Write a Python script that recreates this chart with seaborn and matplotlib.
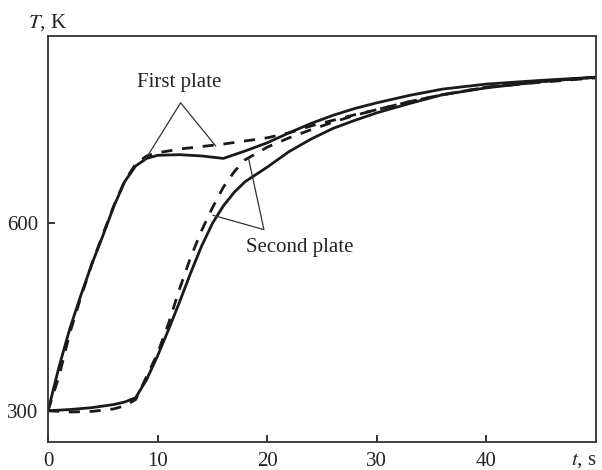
import numpy as np
import pandas as pd
import matplotlib
matplotlib.use("Agg")
import matplotlib.pyplot as plt
import seaborn as sns

# ---- data ----
t_first = [0, 1, 2, 3, 4, 5, 6, 7, 8, 9, 10, 12, 14, 16, 18, 20, 22, 24, 26, 28, 30, 33, 36, 40, 45, 50]
T_first_solid = [300, 370, 432, 485, 535, 580, 627, 667, 692, 704, 709, 710, 708, 704, 716, 729, 745, 760, 773, 784, 793, 805, 815, 823, 829, 834]
T_first_dash = [300, 355, 425, 482, 535, 582, 628, 668, 695, 708, 713, 719, 723, 727, 732, 737, 745, 756, 765, 774, 782, 795, 806, 818, 826, 833]

t_second = [0, 2, 4, 6, 7, 8, 9, 10, 11, 12, 13, 14, 15, 16, 17, 18, 20, 22, 24, 26, 28, 30, 33, 36, 40, 45, 50]
T_second_solid = [300, 302, 305, 310, 314, 321, 350, 388, 430, 474, 520, 563, 600, 628, 650, 667, 690, 715, 735, 752, 765, 777, 792, 806, 817, 827, 834]
T_second_dash = [300, 298, 299, 303, 308, 318, 355, 392, 440, 495, 545, 588, 625, 658, 683, 702, 722, 737, 750, 762, 773, 782, 795, 806, 818, 827, 834]

x_ticks = [0, 10, 20, 30, 40]
y_ticks = [300, 600]

sns.set_theme(style="ticks")
plt.rcParams['font.family'] = ['Liberation Serif', 'DejaVu Serif']
plt.rcParams['mathtext.fontset'] = 'stix'

fig = plt.figure(figsize=(6.02, 4.70), dpi=100)
ax = fig.add_axes([48/602, 1-442/470, (596-48)/602, (442-36)/470])

lw = 2.0
col = '#1a1a1a'
sns.lineplot(x=t_first, y=T_first_solid, ax=ax, color=col, lw=lw, sort=False)
sns.lineplot(x=t_second, y=T_second_solid, ax=ax, color=col, lw=lw, sort=False)
sns.lineplot(x=t_first, y=T_first_dash, ax=ax, color=col, lw=lw, sort=False,
             linestyle=(0, (4, 3.5)))
sns.lineplot(x=t_second, y=T_second_dash, ax=ax, color=col, lw=lw, sort=False,
             linestyle=(0, (4, 3.5)))

ax.set_xlim(0, 50)
ax.set_ylim(250, 900)
ax.set_xticks(x_ticks)
ax.set_yticks(y_ticks)
ax.set_xticklabels([str(v) for v in x_ticks])
ax.set_yticklabels([str(v) for v in y_ticks])
ax.tick_params(direction='in', length=5, width=1.3, labelsize=15, colors='#222222', pad=7)
for s in ax.spines.values():
    s.set_visible(True)
    s.set_linewidth(1.3)
    s.set_color('#333333')
ax.set_xlabel('')
ax.set_ylabel('')

# axis labels
fig.text(28/602, 1-23/470, r'$T$, K', fontsize=15, ha='left', va='center', color='#222222')
fig.text(597/602, 1-460/470, r'$t$, s', fontsize=15, ha='right', va='center', color='#222222')

# annotations
lc = '#333333'
ax.text(12.0, 825, 'First plate', fontsize=15, ha='center', va='center', color='#222222')
ax.plot([8.8, 12.1, 15.3], [700, 793, 724], color=lc, lw=0.9)
ax.text(23.0, 562, 'Second plate', fontsize=15, ha='center', va='center', color='#222222')
ax.plot([15.05, 19.7, 18.3], [613, 590, 704], color=lc, lw=0.9)

fig.savefig('out.png', dpi=100)
